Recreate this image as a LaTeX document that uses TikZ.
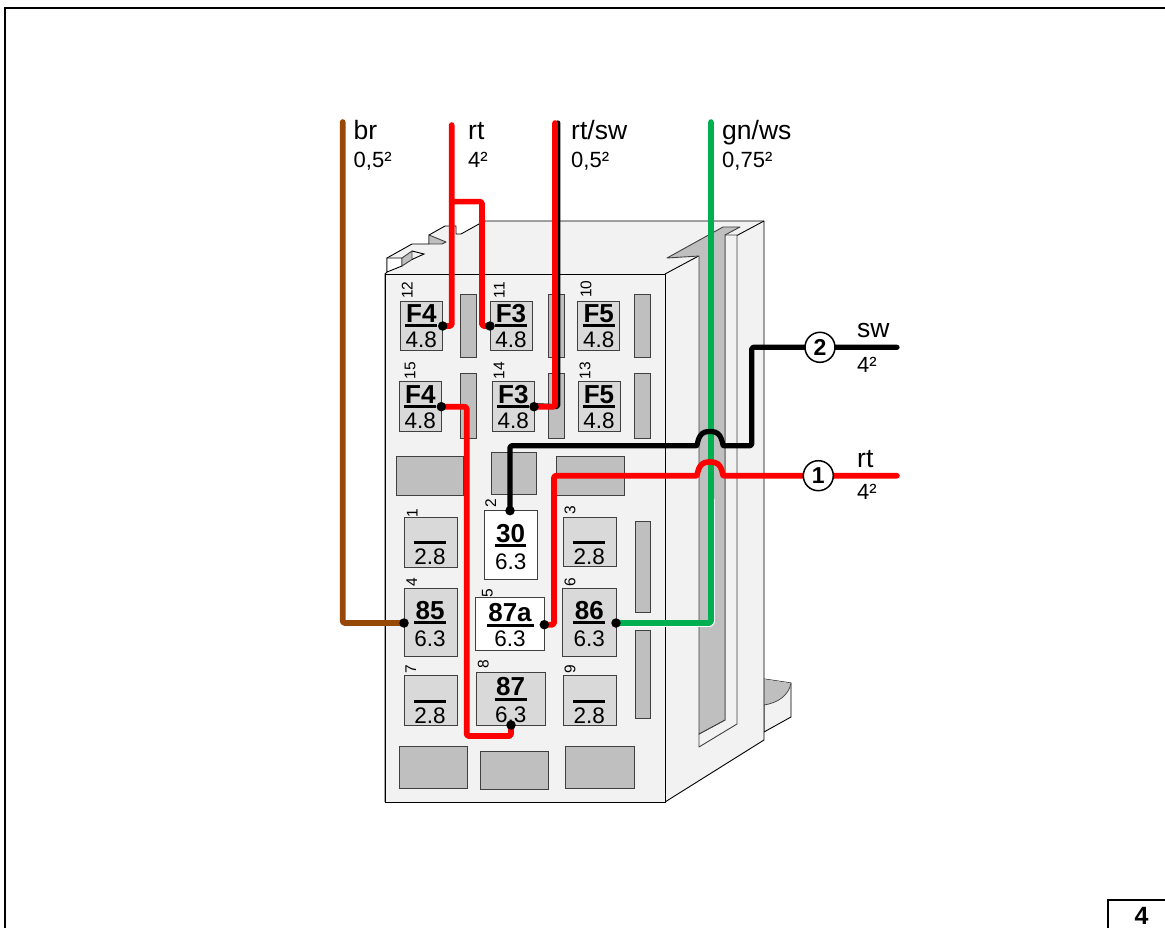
\documentclass[tikz,border=0pt]{standalone}
\usepackage{fontspec}
\setmainfont{Liberation Sans}
\definecolor{bodyc}{HTML}{F2F2F2}
\definecolor{slotc}{HTML}{BFBFBF}
\definecolor{boxc}{HTML}{D9D9D9}
\definecolor{edgec}{HTML}{404040}
\definecolor{brc}{HTML}{984806}
\definecolor{gnc}{HTML}{00B050}
\newcommand{\fsz}[1]{\fontsize{#1}{#1}\selectfont}
\tikzset{
  shell/.style={draw=black,line width=0.9pt,fill=bodyc,line join=round},
  slotshape/.style={draw=edgec,line width=0.9pt,fill=slotc,line join=round},
  thinline/.style={draw=edgec,line width=0.9pt},
  pinbox/.style={draw=edgec,line width=0.9pt,fill=boxc,inner sep=0pt,outer sep=0pt},
  whitebox/.style={pinbox,fill=white},
  slotbox/.style={pinbox,fill=slotc},
  wire/.style={line width=5.6pt,line cap=round,line join=round,rounded corners=1.5pt},
  blackwire/.style={wire,line width=5.2pt,draw=black},
  pinrule/.style={line width=3pt,draw=black},
  pinname/.style={font=\bfseries\fsz{26},anchor=base,inner sep=0pt},
  pinsize/.style={font=\fsz{22.5},anchor=base,inner sep=0pt},
  pinno/.style={font=\fsz{15.5},rotate=90,inner sep=0pt,anchor=center},
  dot/.style={circle,fill=black,inner sep=0pt,minimum size=9.5pt},
  wirename/.style={font=\fsz{26.5},anchor=base west,inner sep=0pt},
  wirecs/.style={font=\fsz{22},anchor=base west,inner sep=0pt},
  numcircle/.style={circle,draw=black,fill=white,line width=1.5pt,inner sep=0pt,minimum size=30pt,font=\bfseries\fsz{23}},
}
% name, x1, y1, x2, y2, style
\newcommand{\pbox}[6]{%
  \pgfmathsetmacro{\bw}{#4-#2}\pgfmathsetmacro{\bh}{#5-#3}%
  \pgfmathsetmacro{\bx}{(#2+#4)/2}\pgfmathsetmacro{\by}{(#3+#5)/2}%
  \node[#6,minimum width=\bw pt,minimum height=\bh pt] (#1) at (\bx,\by) {};}
% name, cx, top baseline, top text, rule y, rule half width, size baseline, size text
\newcommand{\plabel}[8]{%
  \node[pinname] (#1t) at (#2,#3) {#4};%
  \coordinate (#1a) at (#2-#6,#5);\coordinate (#1b) at (#2+#6,#5);%
  \draw[pinrule] (#1a) -- (#1b);%
  \node[pinsize] (#1s) at (#2,#7) {#8};}
\begin{document}
\begin{tikzpicture}[x=1pt,y=-1pt]
\useasboundingbox (0,0) rectangle (1165,928);
\fill[white] (0,0) rectangle (1165,928);
% sheet frame
\coordinate (fa) at (5,928);\coordinate (fb) at (5,8);\coordinate (fc) at (1165,8);
\draw[black,line width=2pt] (fa) -- (fb) -- (fc);
\coordinate (ga) at (1108,928);\coordinate (gb) at (1108,900);\coordinate (gc) at (1165,900);
\draw[black,line width=2pt] (ga) -- (gb) -- (gc);
\node[font=\bfseries\fsz{25},inner sep=0pt,anchor=base] (sheet) at (1141.5,924) {4};
% rear tab
\draw[shell] (764,679) -- (791,683) -- (791,717) -- (764,732) -- cycle;
\fill[slotc] (764,679) -- (791,683) .. controls (789,695) and (778,703) .. (764,705) -- cycle;
\draw[draw=edgec,line width=0.7pt] (791,683) .. controls (789,695) and (778,703) .. (764,705);
% housing
\draw[shell] (385,274) -- (387,272) -- (387,258) -- (412,244) -- (429,244) -- (429,235) -- (445,226) -- (456,226) -- (456,234) -- (461,234) -- (479,224) -- (485,221) -- (764,221) -- (764,740) -- (665,802) -- (385,802) -- cycle;
\draw[slotshape] (429,235) -- (446,242) -- (442,244) -- (429,244) -- cycle;
\draw[draw=black,fill=white,line width=0.9pt] (387,258) -- (402,258) -- (402,266) -- (387,272) -- cycle;
\draw[slotshape] (402,258) -- (412,251) -- (412,259.5) -- (402,266) -- cycle;
\draw[draw=black,line width=0.9pt] (412,251) -- (424,254) -- (412,259.5);
\draw[shell] (385,274) rectangle (665,802);
\draw[draw=black,line width=0.9pt] (665,274) -- (764,221);
% side slot
\draw[shell,draw=edgec,fill=bodyc] (725,235) -- (737,235) -- (737,724) -- (699,747) -- (699,734) -- (725,720) -- cycle;
\draw[slotshape] (667,258) -- (723,227) -- (740,227) -- (725,235) -- (725,720) -- (699,734) -- (699,256) -- cycle;
% grey slots
\pbox{s1}{460.7}{294}{476.3}{357}{slotbox}
\pbox{s2}{548.7}{294}{564}{357}{slotbox}
\pbox{s3}{634.7}{294}{650.7}{357}{slotbox}
\pbox{s4}{460.7}{373.3}{476.3}{438.3}{slotbox}
\pbox{s5}{548.7}{373.3}{564}{438.3}{slotbox}
\pbox{s6}{634.7}{373.3}{650.7}{438.3}{slotbox}
\pbox{s7}{635}{521.3}{650.7}{612.3}{slotbox}
\pbox{s8}{635}{630.3}{650.7}{718.7}{slotbox}
\pbox{w1}{396.7}{456.3}{463}{495}{slotbox}
\pbox{w2}{491}{452}{536.7}{494}{slotbox}
\pbox{w3}{556}{456.3}{624.3}{495}{slotbox}
\pbox{w4}{399}{746.7}{467.7}{788.7}{slotbox}
\pbox{w5}{480}{751.3}{548.3}{789.3}{slotbox}
\pbox{w6}{565.3}{746.7}{634.3}{788.7}{slotbox}
% pin boxes
\pbox{b12}{400.7}{301}{442.7}{350.3}{pinbox}
\pbox{b11}{490}{301}{532}{350.3}{pinbox}
\pbox{b10}{577.7}{301}{619.7}{350.3}{pinbox}
\pbox{b15}{399.7}{381.7}{441.7}{431.3}{pinbox}
\pbox{b14}{492.3}{381.7}{534.3}{431.3}{pinbox}
\pbox{b13}{578.3}{381.7}{620.3}{431.3}{pinbox}
\pbox{b1}{404}{517.3}{457.3}{567}{pinbox}
\pbox{b2}{484.3}{510.7}{537.7}{579}{whitebox}
\pbox{b3}{563.3}{517}{616.3}{566.3}{pinbox}
\pbox{b4}{404}{588.3}{457.3}{656.7}{pinbox}
\pbox{b5}{475.7}{597.7}{544.7}{650.7}{whitebox}
\pbox{b6}{562.7}{588.3}{616.3}{656.7}{pinbox}
\pbox{b7}{404}{675.7}{457.3}{725.3}{pinbox}
\pbox{b8}{476.3}{672}{545}{725.3}{pinbox}
\pbox{b9}{563.3}{675.3}{616.3}{725}{pinbox}
% pin numbers
\node[pinno] (n12) at (407.3,290) {12};
\node[pinno] (n11) at (499.3,290) {11};
\node[pinno] (n10) at (586,289.3) {10};
\node[pinno] (n15) at (410,370.7) {15};
\node[pinno] (n14) at (499,370.7) {14};
\node[pinno] (n13) at (585,370.7) {13};
\node[pinno] (n1) at (412.3,512.7) {1};
\node[pinno] (n2) at (490.7,503.3) {2};
\node[pinno] (n3) at (570,510) {3};
\node[pinno] (n4) at (411.7,581.7) {4};
\node[pinno] (n5) at (487.3,592.7) {5};
\node[pinno] (n6) at (570,581.7) {6};
\node[pinno] (n7) at (410.7,669.3) {7};
\node[pinno] (n8) at (483.3,664) {8};
\node[pinno] (n9) at (570,668.7) {9};
% pin labels
\plabel{l12}{421.3}{322.3}{F4}{325.3}{16}{347.3}{4.8}
\plabel{l11}{511}{322.3}{F3}{325.3}{16}{347.3}{4.8}
\plabel{l10}{598.7}{322.3}{F5}{325.3}{16}{347.3}{4.8}
\plabel{l15}{420.3}{403}{F4}{406}{16}{428}{4.8}
\plabel{l14}{513.3}{403}{F3}{406}{16}{428}{4.8}
\plabel{l13}{599}{403}{F5}{406}{16}{428}{4.8}
\plabel{l1}{430}{0}{}{542.7}{16}{564.7}{2.8}
\plabel{l3}{589.3}{0}{}{542.3}{16}{564.3}{2.8}
\plabel{l7}{430}{0}{}{701.3}{16}{723.7}{2.8}
\plabel{l9}{589.3}{0}{}{701}{16}{723.5}{2.8}
\plabel{l2}{510.7}{542.3}{30}{545}{15.5}{569.7}{6.3}
\plabel{l4}{430}{619.7}{85}{622.7}{16}{646.3}{6.3}
\plabel{l5}{510}{621.3}{87a}{625.3}{23.5}{646.7}{6.3}
\plabel{l6}{589.3}{619.7}{86}{622.7}{16}{646.3}{6.3}
\plabel{l8}{510.7}{695.7}{87}{699}{16}{722}{6.3}
% terminals
\coordinate (d12) at (442.7,326);
\coordinate (d11) at (490,326);
\coordinate (d15) at (441.3,406.7);
\coordinate (d14) at (534,406.7);
\coordinate (d2) at (510,510.7);
\coordinate (d4) at (404,623);
\coordinate (d5) at (544.3,624.7);
\coordinate (d6) at (616,623);
\coordinate (d8) at (511,725);
\coordinate (c1) at (818.3,475.7);
\coordinate (c2) at (820,347.3);
% free ends
\coordinate (ebr) at (342.7,122);
\coordinate (ert) at (451.7,125);
\coordinate (ejn) at (451.7,201.7);
\coordinate (ebk) at (482,201.7);
\coordinate (ers) at (555,123);
\coordinate (ebs) at (557.8,123);
\coordinate (egn) at (711,122);
\coordinate (e1) at (897,475.7);
\coordinate (e2) at (897,347.3);
% wires
\draw[wire,draw=white] (712,500) -- (712,624) -- (621,624);
\draw[wire,draw=gnc] (egn) -- (egn |- d6) -- (d6);
\draw[wire,draw=brc] (ebr) -- (ebr |- d4) -- (d4);
\draw[wire,draw=red] (d12) -- (d12 -| ert) -- (ert);
\draw[wire,draw=red] (ejn) -- (ebk) -- (ebk |- d11) -- (d11);
\draw[blackwire] (ebs) -- (ebs |- d14) -- ([yshift=1pt]d14);
\draw[wire,draw=red] (ers) -- (ers |- d14) -- (d14);
\draw[wire,draw=red] (d15) -- (466.7,406.7) -- (466.7,736) -- (511,736) -- (d8);
\draw[blackwire] (d2) -- (510,445.7) -- (695,445.7) .. controls (698,445.7) and (697,431.5) .. (710,431.5) .. controls (723,431.5) and (722,445.7) .. (725,445.7) -- (751.7,445.7) -- (751.7,347.3) -- (c2) -- (e2);
\draw[wire,draw=red] (d5) -- (554,624.7) -- (554,475.7) -- (695,475.7) .. controls (698,475.7) and (697,462) .. (710,462) .. controls (723,462) and (722,475.7) .. (725,475.7) -- (c1) -- (e1);
% terminals and numbered circles sit on top of the wires
\node[dot] (p12) at (d12) {};
\node[dot] (p11) at (d11) {};
\node[dot] (p15) at (d15) {};
\node[dot] (p14) at (d14) {};
\node[dot] (p2) at (d2) {};
\node[dot] (p4) at (d4) {};
\node[dot] (p5) at (d5) {};
\node[dot] (p6) at (d6) {};
\node[dot] (p8) at (d8) {};
\node[numcircle] (k1) at (c1) {1};
\node[numcircle] (k2) at (c2) {2};
% wire labels
\node[wirename] (tbr) at (353.5,140) {br};
\node[wirecs] (cbr) at (353.5,167.3) {0,5²};
\node[wirename] (trt) at (468,140) {rt};
\node[wirecs] (crt) at (468,167.3) {4²};
\node[wirename] (trs) at (571,140) {rt/sw};
\node[wirecs] (crs) at (571,167.3) {0,5²};
\node[wirename] (tgn) at (722,140) {gn/ws};
\node[wirecs] (cgn) at (722,167.3) {0,75²};
\node[wirename] (tsw) at (857,337) {sw};
\node[wirecs] (csw) at (857,372.7) {4²};
\node[wirename] (trt2) at (857,467) {rt};
\node[wirecs] (crt2) at (857,499) {4²};
\end{tikzpicture}
\end{document}
